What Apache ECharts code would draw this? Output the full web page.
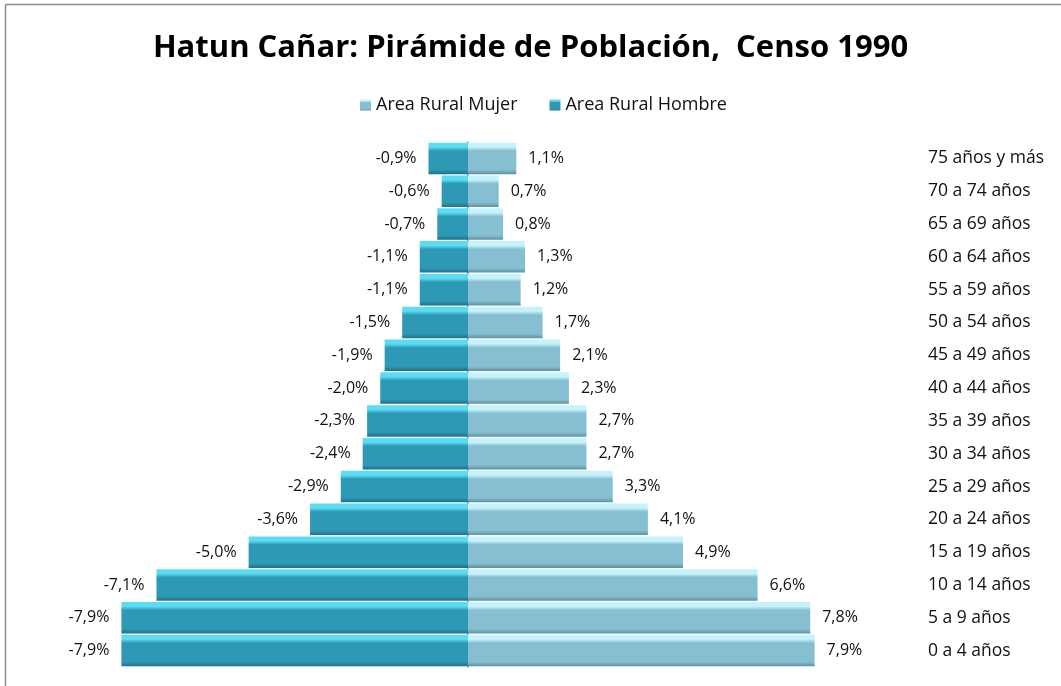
<!DOCTYPE html>
<html><head><meta charset="utf-8">
<script src="https://cdn.jsdelivr.net/npm/echarts@6/dist/echarts.min.js"></script>
<style>html,body{margin:0;padding:0;background:#fff}#c{width:1061px;height:686px}</style>
</head><body><div id="c"></div>
<script>
var categories = ['75 años y más','70 a 74 años','65 a 69 años','60 a 64 años','55 a 59 años','50 a 54 años','45 a 49 años','40 a 44 años','35 a 39 años','30 a 34 años','25 a 29 años','20 a 24 años','15 a 19 años','10 a 14 años','5 a 9 años','0 a 4 años'];
var mujer = [1.1,0.7,0.8,1.3,1.2,1.7,2.1,2.3,2.7,2.7,3.3,4.1,4.9,6.6,7.8,7.9];
var hombre = [-0.9,-0.6,-0.7,-1.1,-1.1,-1.5,-1.9,-2.0,-2.3,-2.4,-2.9,-3.6,-5.0,-7.1,-7.9,-7.9];
var FONT = '"Open Sans", "Noto Sans", sans-serif';
var FS = 16;
function fmt(p){ return p.value.toFixed(1).replace('.', ',') + '%'; }
function grad(top, mid, bot){
  return new echarts.graphic.LinearGradient(0,0,0,1,[
    {offset:0,color:top},{offset:0.14,color:top},{offset:0.26,color:mid},{offset:0.86,color:mid},{offset:1,color:bot}]);
}
var chart = echarts.init(document.getElementById('c'));
chart.setOption({
  animation:false,
  textStyle:{fontFamily:FONT},
  title:{text:'Hatun Cañar: Pirámide de Población,  Censo 1990',left:'center',top:28,
    textStyle:{fontFamily:FONT,fontSize:31,fontWeight:'bold',color:'#000'}},
  legend:{top:91,left:355,itemWidth:11,itemHeight:11,itemGap:32,icon:'rect',
    textStyle:{fontFamily:FONT,fontSize:18,color:'#111'},
    data:['Area Rural Mujer','Area Rural Hombre']},
  graphic:[
    {type:'line',shape:{x1:5.5,y1:4.5,x2:1061,y2:4.5},style:{stroke:'#8c8c8c',lineWidth:1.5},silent:true},
    {type:'line',shape:{x1:5.5,y1:4.5,x2:5.5,y2:686},style:{stroke:'#8c8c8c',lineWidth:1.5},silent:true}
  ],
  grid:{left:117,right:242,top:142,bottom:19},
  xAxis:{type:'value',min:-8,max:8,show:false},
  yAxis:[
    {type:'category',data:categories,inverse:true,axisLine:{onZero:true,lineStyle:{color:'#888',width:1.5}},
     axisTick:{show:false},axisLabel:{show:false}},
    {type:'category',data:categories,inverse:true,position:'right',offset:0,axisLine:{show:false},axisTick:{show:false},
     axisLabel:{align:'left',margin:109,fontFamily:FONT,fontSize:17.5,color:'#111'}}
  ],
  series:[
    {name:'Area Rural Mujer',type:'bar',stack:'t',data:mujer,barCategoryGap:'4%',
     itemStyle:{color:grad('#c6f3fb','#86bfd1','#5e8f9f')},
     label:{show:true,position:'right',distance:12,formatter:fmt,fontFamily:FONT,fontSize:FS,color:'#111'}},
    {name:'Area Rural Hombre',type:'bar',stack:'t',data:hombre,barCategoryGap:'4%',
     itemStyle:{color:grad('#5cdcf2','#2e99b5','#1f6f85')},
     label:{show:true,position:'left',distance:12,formatter:fmt,fontFamily:FONT,fontSize:FS,color:'#111'}}
  ]
});
</script></body></html>
